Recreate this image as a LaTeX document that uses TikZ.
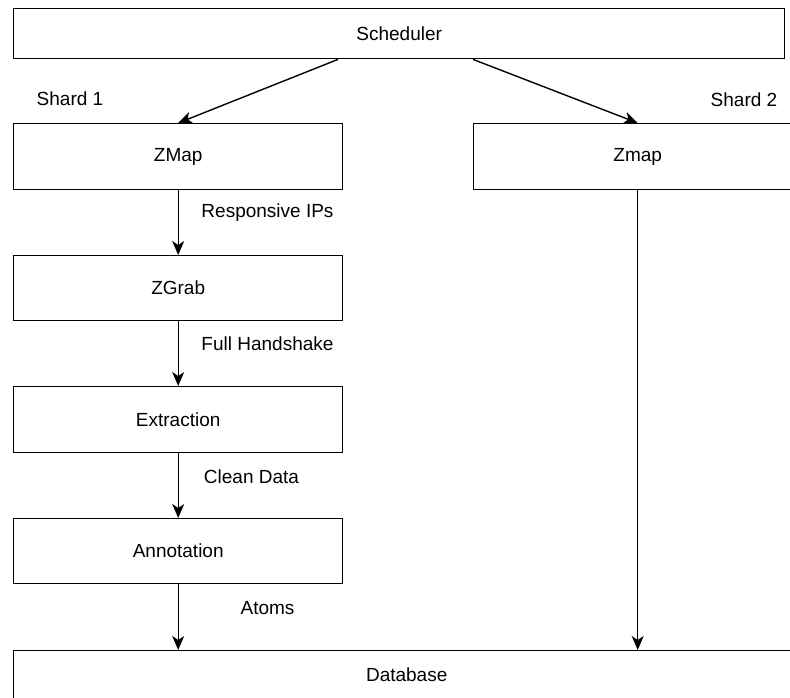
\documentclass[tikz,border=0pt]{standalone}
\usepackage{fontspec}
\setmainfont{Liberation Sans}
\usetikzlibrary{arrows.meta}
\begin{document}
\begin{tikzpicture}[x=1pt,y=-1pt,
  box/.style={draw=black,line width=1.4pt,inner sep=0pt,anchor=north west,font=\fontsize{19}{23}\selectfont},
  lbl/.style={inner sep=0pt,font=\fontsize{19}{23}\selectfont},
  arr/.style={draw=black,line width=1.4pt,-{Stealth[length=14pt,width=12pt,inset=4pt]}}]
\useasboundingbox (0,0) rectangle (790,698);
\clip (0,0) rectangle (790,698);
\node[box,minimum width=771pt,minimum height=50pt] (sched) at (13,8) {Scheduler};
\node[box,minimum width=329pt,minimum height=66pt] (zmap) at (13,123) {ZMap};
\node[box,minimum width=328pt,minimum height=66pt] (zmap2) at (473,123) {Zmap};
\node[box,minimum width=329pt,minimum height=65pt] (zgrab) at (13,255) {ZGrab};
\node[box,minimum width=329pt,minimum height=66pt] (extr) at (13,386) {Extraction};
\node[box,minimum width=329pt,minimum height=65pt] (annot) at (13,518) {Annotation};
\node[box,minimum width=786pt,minimum height=60pt,text height=14pt,text depth=13pt] (db) at (13,650) {Database};
\node[lbl] (s1) at (70,99) {Shard 1};
\node[lbl] (s2) at (744,100) {Shard 2};
\node[lbl] (l1) at (267.5,213) {Responsive IPs};
\node[lbl] (l2) at (267.5,344) {Full Handshake};
\node[lbl] (l3) at (251.5,477) {Clean Data};
\node[lbl] (l4) at (267.5,608) {Atoms};
\draw[arr] (sched.south -| 338,0) -- (zmap.north);
\draw[arr] (sched.south -| zmap2.west) -- (zmap2.north);
\draw[arr] (zmap.south) -- (zgrab.north);
\draw[arr] (zgrab.south) -- (extr.north);
\draw[arr] (extr.south) -- (annot.north);
\draw[arr] (annot.south) -- (annot.south |- db.north);
\draw[arr] (zmap2.south) -- (zmap2.south |- db.north);
\end{tikzpicture}
\end{document}
